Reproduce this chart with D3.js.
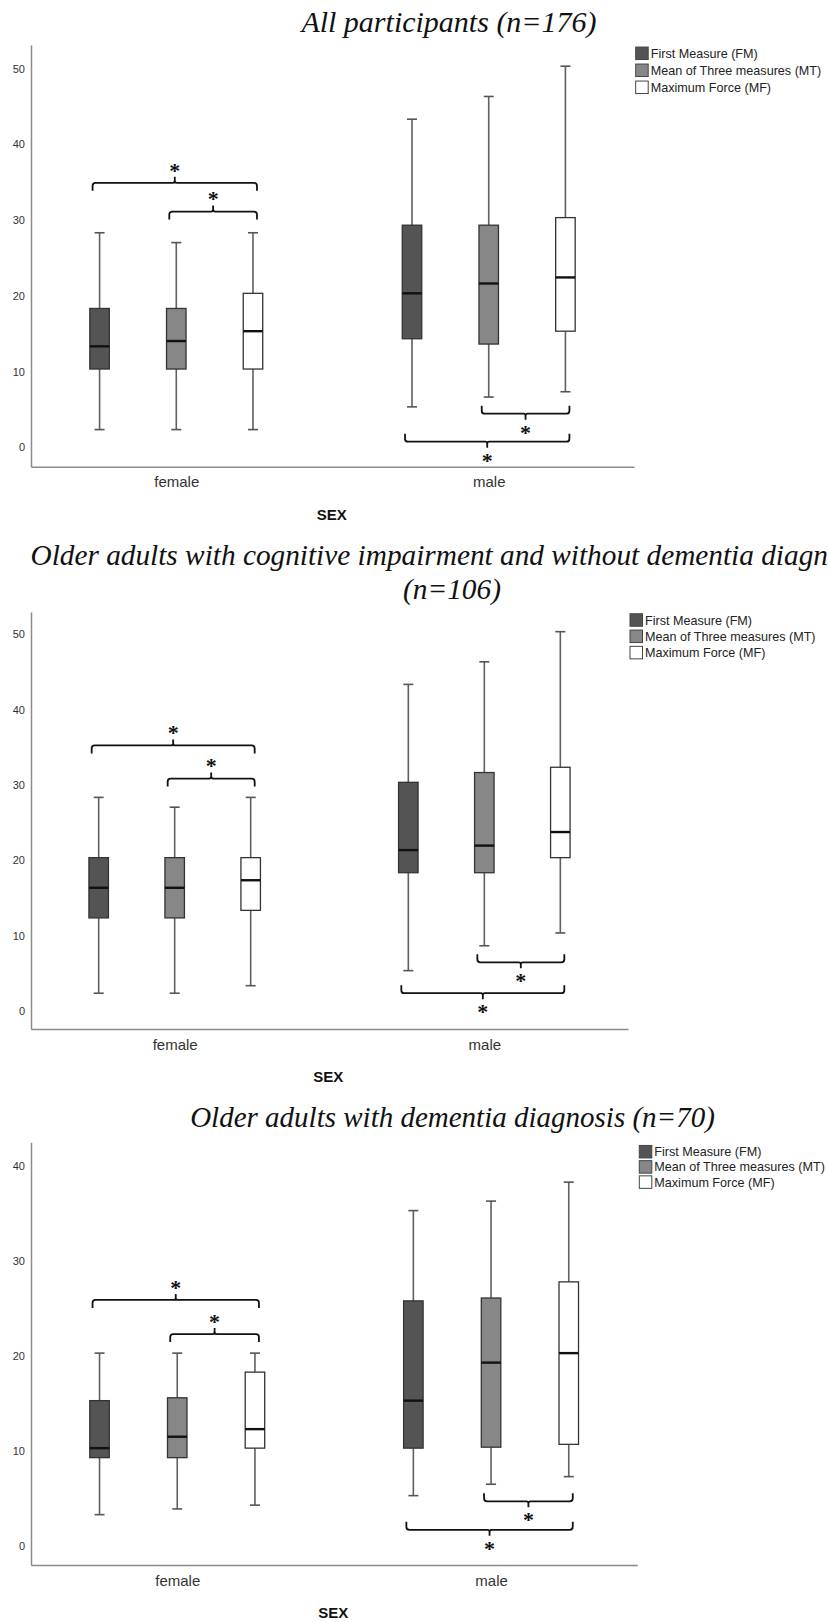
<!DOCTYPE html>
<html lang="en">
<head>
  <meta charset="utf-8">
  <script src="https://d3js.org/d3.v7.min.js"></script>
  <style>
    body { margin: 0; background: #fff; }
    svg { display: block; }
  </style>
</head>
<body>
  <div id="chart"></div>
  <script>
  const width = 828
  const height = 1622

  const groups = ["female", "male"]
  const measures = ["FM", "MT", "MF"]
  const legendLabels = ["First Measure (FM)", "Mean of Three measures (MT)", "Maximum Force (MF)"]
  const axisTitle = "SEX"

  const titles1 = ["All participants (n=176)"]
  const titles2 = ["Older adults with cognitive impairment and without dementia diagnosis", "(n=106)"]
  const titles3 = ["Older adults with dementia diagnosis (n=70)"]

  const ticks1 = [0, 10, 20, 30, 40, 50]
  const ticks2 = [0, 10, 20, 30, 40, 50]
  const ticks3 = [0, 10, 20, 30, 40]

  // group, measure, min, q1, median, q3, max
  const stats1 = [
    ["female", "FM", 2, 10, 13, 18, 28],
    ["female", "MT", 2, 10, 13.7, 18, 26.7],
    ["female", "MF", 2, 10, 15, 20, 28],
    ["male", "FM", 5, 14, 20, 29, 43],
    ["male", "MT", 6.3, 13.3, 21.3, 29, 46],
    ["male", "MF", 7, 15, 22.1, 30, 50]
  ]
  const stats2 = [
    ["female", "FM", 2, 12, 16, 20, 28],
    ["female", "MT", 2, 12, 16, 20, 26.7],
    ["female", "MF", 3, 13, 17, 20, 28],
    ["male", "FM", 5, 18, 21, 30, 43],
    ["male", "MT", 8.3, 18, 21.6, 31.3, 46],
    ["male", "MF", 10, 20, 23.4, 32, 50]
  ]
  const stats3 = [
    ["female", "FM", 3, 9, 10, 15, 20],
    ["female", "MT", 3.6, 9, 11.2, 15.3, 20],
    ["female", "MF", 4, 10, 12, 18, 20],
    ["male", "FM", 5, 10, 15, 25.5, 35],
    ["male", "MT", 6.2, 10.1, 19, 25.8, 36],
    ["male", "MF", 7, 10.4, 20, 27.5, 38]
  ]

  // significance brackets: group, from, to, level (value), side
  const brackets1 = [
    ["female", "FM", "MF", 34.6, "up"],
    ["female", "MT", "MF", 30.8, "up"],
    ["male", "MT", "MF", 4.1, "down"],
    ["male", "FM", "MF", 0.4, "down"]
  ]
  const brackets2 = [
    ["female", "FM", "MF", 34.9, "up"],
    ["female", "MT", "MF", 30.5, "up"],
    ["male", "MT", "MF", 6.1, "down"],
    ["male", "FM", "MF", 2.0, "down"]
  ]
  const brackets3 = [
    ["female", "FM", "MF", 25.6, "up"],
    ["female", "MT", "MF", 22.0, "up"],
    ["male", "MT", "MF", 4.4, "down"],
    ["male", "FM", "MF", 1.4, "down"]
  ]

  const fill = d3.scaleOrdinal().domain(measures).range(["#545454", "#878787", "#ffffff"])

  // layout of each panel (each panel was a separate screenshot, so sizes differ a bit)
  const panels = [
    { titles: titles1, ticks: ticks1, stats: stats1, brackets: brackets1,
      titleX: 449, titleY: [31.7], titleSize: 30,
      x0: 31, x1: 634, pad: 0.465, gap: 76.7, yTop: 45, yBottom: 466.7, domain: [-2.9, 52.8],
      sexX: 331.7, sexY: 515, legX: 635.7, legY: 53.3, legStep: 17 },
    { titles: titles2, ticks: ticks2, stats: stats2, brackets: brackets2,
      titleX: 452, titleY: [564.6, 598.6], titleSize: 29.3,
      x0: 31, x1: 628, pad: 0.464, gap: 76, yTop: 612.1, yBottom: 1029, domain: [-2.75, 52.6],
      sexX: 328.3, sexY: 1077, legX: 630, legY: 620, legStep: 16.3 },
    { titles: titles3, ticks: ticks3, stats: stats3, brackets: brackets3,
      titleX: 452.5, titleY: [1126.7], titleSize: 29,
      x0: 31, x1: 637.3, pad: 0.466, gap: 77.7, yTop: 1142.2, yBottom: 1565, domain: [-2.3, 42.2],
      sexX: 333.3, sexY: 1612.3, legX: 639.3, legY: 1151.7, legStep: 15.2 }
  ]

  const svg = d3.select("#chart").append("svg")
      .attr("width", width)
      .attr("height", height)
      .style("background", "#fff")

  const sans = "'Liberation Sans', Arial, sans-serif"
  const serif = "'Liberation Serif', 'Times New Roman', serif"

  panels.forEach(drawPanel)

  function drawPanel(p) {
    const g = svg.append("g")
    const x = d3.scalePoint().domain(groups).range([p.x0, p.x1]).padding(p.pad)
    const xm = d3.scalePoint().domain(measures).range([-p.gap, p.gap])
    const y = d3.scaleLinear().domain(p.domain).range([p.yBottom, p.yTop])
    const cx = (grp, m) => x(grp) + xm(m)
    const bw = 19.5

    ////////////////////////////// title //////////////////////////////
    g.selectAll(".title")
      .data(p.titles)
      .join("text")
        .attr("x", p.titleX)
        .attr("y", (d, i) => p.titleY[i])
        .attr("text-anchor", "middle")
        .style("font-family", serif)
        .style("font-style", "italic")
        .style("font-size", p.titleSize + "px")
        .style("fill", "#111")
        .text(d => d)

    ////////////////////////////// axes //////////////////////////////
    const yAxis = g.append("g")
        .attr("transform", `translate(${p.x0},0)`)
        .call(d3.axisLeft(y).tickValues(p.ticks).tickSize(0).tickSizeOuter(0).tickPadding(6))
    yAxis.select(".domain").attr("stroke", "#8a8a8a").attr("stroke-width", 1.5)
    yAxis.selectAll("text")
        .attr("dy", "0.55em")
        .style("font-family", sans)
        .style("font-size", "11px")
        .style("fill", "#333")

    const xAxis = g.append("g")
        .attr("transform", `translate(0,${p.yBottom})`)
        .call(d3.axisBottom(x).tickSize(0).tickSizeOuter(0).tickPadding(10))
    xAxis.select(".domain").attr("stroke", "#8a8a8a").attr("stroke-width", 1.5)
    xAxis.selectAll("text")
        .style("font-family", sans)
        .style("font-size", "15px")
        .style("fill", "#333")

    g.append("text")
        .attr("x", p.sexX)
        .attr("y", p.sexY)
        .attr("dy", "0.36em")
        .attr("text-anchor", "middle")
        .style("font-family", sans)
        .style("font-weight", "bold")
        .style("font-size", "15px")
        .style("fill", "#111")
        .text(axisTitle)

    ////////////////////////////// boxes //////////////////////////////
    const box = g.selectAll(".box")
      .data(p.stats)
      .join("g")
        .attr("class", "box")

    box.append("line")
        .attr("x1", d => cx(d[0], d[1]))
        .attr("x2", d => cx(d[0], d[1]))
        .attr("y1", d => y(d[2]))
        .attr("y2", d => y(d[6]))
        .attr("stroke", "#606060")
        .attr("stroke-width", 1.6)

    box.selectAll(".cap")
      .data(d => [[d, d[2]], [d, d[6]]])
      .join("line")
        .attr("x1", d => cx(d[0][0], d[0][1]) - 5)
        .attr("x2", d => cx(d[0][0], d[0][1]) + 5)
        .attr("y1", d => y(d[1]))
        .attr("y2", d => y(d[1]))
        .attr("stroke", "#555")
        .attr("stroke-width", 1.6)

    box.append("rect")
        .attr("x", d => cx(d[0], d[1]) - bw / 2)
        .attr("width", bw)
        .attr("y", d => y(d[5]))
        .attr("height", d => y(d[3]) - y(d[5]))
        .attr("fill", d => fill(d[1]))
        .attr("stroke", "#333")
        .attr("stroke-width", 1.3)

    box.append("line")
        .attr("x1", d => cx(d[0], d[1]) - bw / 2)
        .attr("x2", d => cx(d[0], d[1]) + bw / 2)
        .attr("y1", d => y(d[4]))
        .attr("y2", d => y(d[4]))
        .attr("stroke", "#111")
        .attr("stroke-width", 2.4)

    ////////////////////////////// brackets //////////////////////////////
    const br = g.selectAll(".bracket")
      .data(p.brackets)
      .join("g")
        .attr("class", "bracket")

    br.append("path")
        .attr("d", d => bracketPath(cx(d[0], d[1]) - 7, cx(d[0], d[2]) + 4, y(d[3]), d[4] === "up" ? 1 : -1))
        .attr("fill", "none")
        .attr("stroke", "#111")
        .attr("stroke-width", 1.8)

    br.append("text")
        .attr("x", d => (cx(d[0], d[1]) - 7 + cx(d[0], d[2]) + 4) / 2)
        .attr("y", d => y(d[3]) - (d[4] === "up" ? 1 : -1) * 15.5 + 10.4)
        .attr("text-anchor", "middle")
        .style("font-family", serif)
        .style("font-weight", "bold")
        .style("font-size", "22px")
        .style("fill", "#111")
        .text("*")

    ////////////////////////////// legend //////////////////////////////
    const leg = g.selectAll(".legend")
      .data(measures)
      .join("g")
        .attr("class", "legend")
        .attr("transform", (d, i) => `translate(${p.legX},${p.legY + i * p.legStep})`)

    leg.append("rect")
        .attr("x", 0)
        .attr("y", -6.25)
        .attr("width", 12.5)
        .attr("height", 12.5)
        .attr("fill", d => fill(d))
        .attr("stroke", "#444")
        .attr("stroke-width", 1)

    leg.append("text")
        .attr("x", 15)
        .attr("y", 4.5)
        .style("font-family", sans)
        .style("font-size", "12.6px")
        .style("fill", "#222")
        .text((d, i) => legendLabels[i])
  }

  // s = 1: ends point down, centre tick points up (bracket above boxes)
  function bracketPath(xa, xb, yh, s) {
    const e = 8, t = 6, r = 3
    const xc = (xa + xb) / 2
    return `M${xa},${yh + s * e} L${xa},${yh + s * r} Q${xa},${yh} ${xa + r},${yh} L${xc - 2},${yh}` +
      ` Q${xc},${yh} ${xc},${yh - s * 2} L${xc},${yh - s * t}` +
      ` M${xc},${yh - s * 2} Q${xc},${yh} ${xc + 2},${yh} L${xb - r},${yh} Q${xb},${yh} ${xb},${yh + s * r} L${xb},${yh + s * e}`
  }
  </script>
</body>
</html>
